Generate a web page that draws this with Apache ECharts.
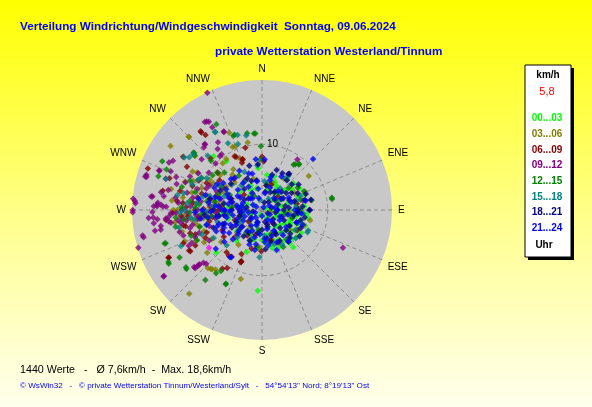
<!DOCTYPE html>
<html><head><meta charset="utf-8">
<script src="https://cdn.jsdelivr.net/npm/echarts/dist/echarts.min.js"></script>
<style>html,body{margin:0;padding:0;}#chart{width:592px;height:407px;}</style>
</head><body><div id="chart"></div>
<script>
const directions = ['N','NNE','NE','ENE','E','ESE','SE','SSE','S','SSW','SW','WSW','W','WNW','NW','NNW'];
const radiusTickLabels = ['10'];
const bucketLabels = ['00...03','03...06','06...09','09...12','12...15','15...18','18...21','21...24'];
const titleLine1 = 'Verteilung Windrichtung/Windgeschwindigkeit  Sonntag, 09.06.2024';
const titleLine2 = 'private Wetterstation Westerland/Tinnum';
const footerStats = '1440 Werte   -   Ø 7,6km/h  -  Max. 18,6km/h';
const footerCopy = '© WsWin32   -   © private Wetterstation Tinnum/Westerland/Sylt   -   54°54\'13" Nord; 8°19\'13" Ost';
const unitLabel = 'km/h';
const currentLabel = '5,8';
const hourLabel = 'Uhr';

// [speed km/h, direction deg]
const h00_03 = [[1.2,95],[2.5,110],[3.1,80],[4.0,100],[4.8,115],[5.5,95],[6.1,105],[3.6,130],[4.4,140],[5.2,150],[2.8,160],[3.9,170],[5.0,175],[6.0,165],[2.1,200],[3.3,210],[4.6,195],[1.8,250],[3.0,260],[4.2,245],[5.3,255],[2.4,290],[3.8,280],[5.1,275],[6.2,265],[2.9,320],[4.1,335],[5.4,20],[4.7,50],[3.5,60],[5.9,70],[6.5,85],[6.9,120],[6.3,135],[5.8,145],[2.2,45],[1.5,150],[0.8,200],[3.2,15],[4.3,30],[6.0,40],[6.6,60],[5.6,125],[4.9,160],[3.7,185],[6.8,95],[7.2,100],[12.3,183],[5.0,230],[6.1,220],[7.0,285],[6.4,300],[3.4,345],[2.6,75],[5.2,80],[6.2,155],[7.4,140],[4.4,90],[4.0,120],[3.0,100],[11.0,318],[5.7,112],[6.7,128],[9.2,324],[6.4,355],[5.4,8],[6.8,200],[9.5,227],
  [0.6,60],[1.1,130],[1.9,90],[2.3,120],[2.7,60],[3.3,140],[3.6,95],[4.1,75],[4.5,110],[4.9,130],[5.3,100],[5.7,88],[6.1,120],[6.4,110],[1.4,300],[2.0,260],[2.6,230],[3.4,190],[4.0,205],[4.6,180],[5.4,165],[5.8,185],[3.0,45],[3.9,35],[4.7,25],[5.5,55],[6.3,50],[6.9,70],[3.5,330],[4.4,310],[2.9,275],[3.7,245],[4.9,262],[5.9,278],[6.6,140],[7.0,110]];
const h03_06 = [[15.7,315],[17.0,305],[12.8,337],[10.5,348],[10.5,337],[13.1,309],[9.5,325],[8.5,337],[8.8,54],[7.1,67],[7.5,102],[11.0,197],[11.9,221],[12.1,223],[16.9,221],[11.8,220],[11.5,218],[12.6,255],[6.0,139],[5.2,126],[1.3,102],[12.5,290],[14.2,283],[13.4,262],[11.1,245],[9.4,250],[8.2,268],[7.4,280],[10.1,275],[6.3,295],[5.5,262],[4.6,240],[7.9,232],[8.8,240],[3.9,300],[2.8,330],[4.5,20],[5.8,35],[3.3,60],[6.8,110],[4.2,160],[5.6,185],[3.1,215],[9.2,300],[11.4,300],[10.8,262],[12.9,270],[13.8,276],[8.6,285],[6.1,250],[2.2,270],[7.0,320],[8.3,310],[9.9,255],[10.6,232],[15.8,315],[10.6,335],[9.3,320],[8.5,299],[12.1,299],
  [11.9,266],[10.3,258],[9.0,262],[8.0,273],[7.1,267],[12.2,279],[11.0,284],[9.8,290],[8.7,296],[6.5,303],[5.9,315],[7.6,325],[4.3,280],[3.6,255],[5.1,228],[6.4,214],[4.9,345],[3.8,10],[5.6,62],[4.1,95],[12.7,248],[10.1,241],[13.5,270],[11.4,293],[6.7,278]];
const h06_09 = [[15.2,322],[14.3,323],[14.5,304],[9.8,345],[8.2,339],[8.1,0],[6.3,181],[8.6,202],[10.3,211],[10.8,214],[16.0,243],[18.5,290],[14.9,289],[15.0,322],[9.0,334],[7.4,2],[12.6,240],[11.5,242],[13.0,247],[8.4,220],[8.6,216],[8.5,202],[9.1,248],[11.5,252],[14.7,264],[9.2,333],[7.8,337],[15.4,281],[15.9,243],[12.7,241],[8.5,213],[8.3,339],[8.4,202],[5.5,153],[4.8,163],[4.7,103],[10.2,270],[12.1,275],[11.3,265],[9.5,285],[7.6,262],[6.2,275],[5.1,290],[4.4,250],[3.6,310],[2.7,230],[6.9,300],[8.8,310],[10.6,295],[12.8,283],[13.6,268],[11.9,258],[4.1,20],[3.2,50],[5.4,80],[6.2,120],[2.5,140],[3.9,195],[7.1,235],[5.8,225],[13.2,300],[11.1,315],[9.9,262],
  [11.6,272],[10.6,276],[9.7,264],[8.9,271],[12.4,266],[10.0,281],[8.2,258],[7.3,287],[6.6,270],[5.8,262],[11.2,289],[9.4,296],[7.9,305],[6.4,318],[5.2,330],[4.5,210],[6.1,195],[7.4,205],[3.4,270],[4.8,285],[9.6,244],[10.8,250],[12.2,259],[13.0,276],[6.8,243]];
const h09_12 = [[19.7,335],[15.9,328],[15.7,329],[14.7,329],[13.3,334],[13.2,319],[11.5,324],[10.4,322],[9.4,35],[6.4,77],[13.6,115],[12.0,228],[12.8,229],[13.5,229],[18.0,236],[19.7,253],[18.6,258],[16.6,259],[15.6,261],[19.7,275],[19.7,270],[17.0,277],[18.5,286],[19.4,274],[16.8,277],[15.9,274],[16.5,272],[16.0,273],[15.4,273],[18.3,286],[16.7,291],[15.6,280],[17.3,266],[16.6,266],[18.5,257],[15.7,259],[14.3,263],[16.0,327],[13.2,334],[12.3,327],[10.5,324],[13.0,317],[13.3,319],[15.5,299],[15.9,297],[16.8,291],[18.4,287],[14.0,291],[15.4,288],[15.1,293],[19.7,269],[18.1,236],[13.5,230],[13.0,229],[12.6,229],[11.8,226],[16.6,263],[16.0,265],[14.7,265],[14.2,266],[13.1,268],[12.5,261],[12.2,264],[19.3,273],[16.7,269],[16.0,272],[15.1,272],[14.6,272],[13.9,268],[12.8,275],[11.6,262],[10.7,280],[9.8,270],[12.4,290],[11.2,300],[8.9,295],[13.0,255],[10.2,250],[14.6,282],[15.1,278],[8.0,275],[7.2,260],[11.8,245],[6.5,285],[12.0,310],[10.0,315],[9.3,240],[14.0,262],
  [12.2,270],[11.4,268],[10.9,273],[10.1,266],[9.4,278],[8.7,268],[8.1,282],[13.3,278],[12.9,263],[11.7,283],[10.8,258],[9.6,262],[12.6,252],[11.3,256],[10.4,288],[9.1,291],[13.6,287],[12.1,295],[7.7,270],[6.9,266],[11.0,248],[12.4,244],[8.4,253],[9.9,305],[7.4,292]];
const h12_15 = [[14.8,332],[12.1,339],[11.9,349],[11.7,355],[13.5,310],[16.6,288],[16.9,296],[8.4,35],[8.9,39],[10.8,80],[12.6,206],[13.7,219],[14.5,233],[14.5,240],[16.3,241],[15.7,251],[12.2,340],[11.7,354],[13.6,310],[13.2,309],[15.8,293],[10.8,314],[9.7,359],[7.7,358],[15.5,251],[16.4,240],[14.6,232],[11.9,216],[11.2,214],[12.5,206],[8.6,36],[9.0,39],[7.0,66],[7.7,79],[10.8,81],[11.0,268],[9.6,275],[8.4,262],[7.3,280],[12.3,272],[13.2,265],[10.5,285],[6.2,250],[5.4,295],[4.5,230],[3.6,100],[4.9,120],[5.8,140],[6.5,150],[3.0,190],[2.4,330],[4.1,10],[5.3,50],[6.1,75],[7.5,300],[8.9,310],[9.8,255],[10.9,245],[5.0,200],
  [12.0,263],[11.1,277],[10.2,272],[9.3,266],[8.5,279],[7.8,263],[7.0,290],[12.7,286],[11.8,292],[10.4,298],[9.2,305],[8.1,315],[6.3,326],[5.5,265],[4.6,275],[3.4,250],[4.2,215],[5.7,188],[3.9,160],[4.8,105],[5.9,90],[6.4,58],[3.2,35],[13.4,259],[11.5,250]];
const h15_18 = [[13.9,329],[12.0,342],[10.7,340],[11.7,315],[13.7,306],[6.8,354],[7.7,116],[6.0,36],[5.9,137],[13.8,329],[11.4,333],[11.6,348],[10.8,295],[10.5,298],[14.3,304],[13.5,246],[7.2,183],[6.6,38],[4.3,40],[7.7,114],[5.9,121],[1.6,349],[15.4,288],[13.5,309],[9.0,270],[10.4,262],[8.2,285],[7.0,255],[6.1,290],[5.0,265],[4.0,240],[3.1,280],[2.5,200],[3.8,150],[4.6,100],[5.2,85],[6.2,70],[3.3,60],[5.5,160],[6.7,130],[11.5,275],[12.2,282],[9.7,300],[8.5,240],[7.6,225],[4.9,320],[6.4,335],[2.0,30],[12.9,258],
  [11.8,270],[10.9,264],[10.0,276],[9.2,283],[8.4,268],[7.5,274],[6.7,262],[12.5,268],[11.3,290],[9.9,248],[8.8,255],[7.2,300],[6.0,310],[5.1,330],[4.4,5],[3.7,45],[5.4,75],[6.3,95],[5.8,110],[4.7,140],[6.1,150],[3.9,175],[4.6,200],[5.6,222],[13.1,280]];
const h18_21 = [[6.9,37],[6.7,77],[7.6,78],[7.2,90],[7.0,344],[7.0,355],[5.6,16],[6.4,29],[6.0,49],[5.5,89],[7.3,90],[5.5,95],[2.5,52],[1.2,17],[3.2,109],[1.9,166],[5.0,202],[6.8,36],[4.1,47],[3.7,61],[5.4,93],[2.3,90],[2.7,162],[4.4,70],[5.2,60],[6.1,105],[4.8,120],[3.9,135],[5.6,130],[6.3,140],[4.3,150],[3.0,180],[4.0,210],[2.0,235],[3.5,255],[4.6,270],[5.9,280],[6.6,262],[7.4,270],[8.1,282],[3.1,300],[4.2,320],[2.8,10],[3.4,35],[1.5,75],[4.9,100],[6.5,115],[7.0,125],[5.0,165],[6.0,175],[3.6,80],[2.2,130],[8.8,265],[7.9,250],[5.3,240],[6.2,310],[4.7,340],[6.0,65],
  [1.0,120],[1.6,40],[2.1,100],[2.6,70],[2.9,140],[3.3,90],[3.7,115],[4.1,85],[4.5,55],[4.8,130],[5.1,75],[5.6,110],[6.2,85],[6.6,100],[3.0,25],[3.8,10],[4.6,350],[5.3,335],[2.4,280],[3.2,262],[4.3,245],[5.0,290],[5.7,270],[6.4,250],[7.0,295],[3.5,190],[4.4,170],[5.4,150],[6.0,135],[2.0,200],[1.4,260],[2.7,310],[3.9,230],[4.9,215],[6.8,55],[7.1,70],[5.9,40],[6.5,20],[4.0,150],[2.3,160]];
const h21_24 = [[0.5,30],[1.1,250],[1.6,300],[2.0,200],[2.4,90],[2.7,270],[3.0,330],[3.3,240],[3.6,20],[3.9,280],[4.2,160],[4.5,260],[4.8,310],[5.1,225],[5.4,290],[5.7,270],[6.0,250],[6.3,300],[6.6,275],[7.0,262],[7.4,285],[7.8,268],[8.2,278],[8.7,255],[9.1,270],[2.2,140],[3.1,120],[4.0,100],[4.6,75],[3.4,60],[2.6,45],[5.2,15],[5.9,340],[4.4,350],[6.4,320],[5.6,200],[6.2,190],[4.9,175],[3.7,185],[2.9,215],[1.9,345],[1.4,120],[6.8,240],[7.5,230],[6.1,235],[5.3,245],[4.1,230],[8.0,295],[7.2,305],[6.7,315],[5.0,325],[3.8,300],[2.5,315],[3.2,280],[4.7,285],[5.8,262],[6.9,252],[7.7,245],[9.4,262],[10.2,268],[9.8,280],[3.5,205],[4.3,195],[5.5,170],[6.5,160],[5.0,140],[4.5,125],[5.6,110],[6.0,95],[11.0,45],[7.7,3],[6.8,78],[7.8,353],[8.6,213],[9.2,230],[8.7,214],
  [0.9,180],[1.3,60],[1.7,150],[2.1,260],[2.3,320],[2.8,250],[3.1,290],[3.4,265],[3.7,275],[4.0,250],[4.3,300],[4.6,240],[4.9,268],[5.2,280],[5.5,258],[5.8,295],[6.1,270],[6.4,245],[6.7,285],[7.1,275],[2.6,10],[3.3,350],[4.1,330],[2.9,110],[3.6,150],[4.4,175],[5.3,190],[2.0,80],[3.8,40],[4.5,65],[5.0,90],[1.5,220],[2.4,200],[3.9,215],[4.8,228],[6.3,225],[7.3,250],[8.3,262],[8.9,285],[7.9,300],[6.9,330],[5.7,345],[4.7,15],[5.9,30],[6.6,110],[6.2,140],[5.4,155],[3.0,165],[1.0,300],[2.2,230]];
const currentValue = [[9.9,234.5]];

const bucketData = [h00_03,h03_06,h06_09,h09_12,h12_15,h15_18,h18_21,h21_24];
const bucketColors = ['#00ff00','#808000','#800000','#800080','#008000','#008080','#000080','#0000ff'];

const FONT = 'Liberation Sans, Arial, sans-serif';
const chart = echarts.init(document.getElementById('chart'), null, {renderer:'canvas'});

const legendTexts = [
  {type:'text', style:{text:unitLabel, x:548, y:75, align:'center', verticalAlign:'middle', font:'bold 10px '+FONT, fill:'#000'}},
  {type:'text', style:{text:currentLabel, x:547, y:92, align:'center', verticalAlign:'middle', font:'11px '+FONT, fill:'#ff0000'}}
];
bucketLabels.forEach((t,i)=>{
  legendTexts.push({type:'text', style:{text:t, x:547, y:118.5+i*15.7, align:'center', verticalAlign:'middle', font:'bold 10px '+FONT, fill:bucketColors[i]}});
});
legendTexts.push({type:'text', style:{text:hourLabel, x:544, y:245, align:'center', verticalAlign:'middle', font:'bold 10px '+FONT, fill:'#000'}});

const series = bucketData.map((d,i)=>({
  type:'scatter', coordinateSystem:'polar', polarIndex:1, name:bucketLabels[i], data:d, z:3,
  symbol:'diamond', symbolSize:6.5, itemStyle:{color:bucketColors[i]}, silent:true
}));
series.push({type:'scatter', coordinateSystem:'polar', polarIndex:1, data:currentValue, z:3, symbol:'diamond', symbolSize:6.5, itemStyle:{color:'#ff00ff'}, silent:true});

chart.setOption({
  animation:false,
  backgroundColor:{type:'linear', x:0, y:0, x2:0, y2:1, colorStops:[{offset:0,color:'#ffff00'},{offset:0.55,color:'#ffff90'},{offset:1,color:'#ffffee'}]},
  title:[
    {text:titleLine1, left:15, top:16, textStyle:{color:'#0000ff', fontSize:11.7, fontWeight:'bold', fontFamily:FONT}},
    {text:titleLine2, left:210, top:41, textStyle:{color:'#0000ff', fontSize:11.7, fontWeight:'bold', fontFamily:FONT}},
    {text:footerStats, left:15, top:360, textStyle:{color:'#000', fontSize:10.7, fontWeight:'normal', fontFamily:FONT}},
    {text:footerCopy, left:15, top:377, textStyle:{color:'#0000ff', fontSize:8.1, fontWeight:'normal', fontFamily:FONT}}
  ],
  graphic:[
    {type:'rect', shape:{x:528, y:68, width:46, height:192}, style:{fill:'#000'}, silent:true},
    {type:'rect', shape:{x:525, y:65, width:46, height:192}, style:{fill:'#fff', stroke:'#000', lineWidth:1}, silent:true}
  ].concat(legendTexts),
  polar:[{center:[262,210], radius:130},{center:[262,210], radius:130}],
  angleAxis:[{
    polarIndex:0, z:0, type:'value', min:0, max:360, interval:22.5, startAngle:90, clockwise:true,
    axisLine:{show:false}, axisTick:{show:false}, axisLabel:{show:false}, splitLine:{show:false},
    splitArea:{show:true, areaStyle:{color:['#c8c8c8']}}
  },{
    polarIndex:1, z:1, type:'value', min:0, max:360, interval:22.5, startAngle:90, clockwise:true,
    axisLine:{show:false}, axisTick:{show:false},
    axisLabel:{formatter:v=> v>=360 ? '' : directions[Math.round(v/22.5)], color:'#000', fontSize:10, fontFamily:FONT, margin:6},
    splitLine:{show:true, lineStyle:{color:'#8c8c8c', type:[4,3], width:1}},
    splitArea:{show:false}
  }],
  radiusAxis:[{
    polarIndex:0, z:0, type:'value', min:0, max:19.8, interval:10,
    axisLine:{show:false}, axisTick:{show:false}, axisLabel:{show:false}, splitLine:{show:false}
  },{
    polarIndex:1, z:1, type:'value', min:0, max:19.8, interval:10,
    axisLine:{show:false}, axisTick:{show:false},
    axisLabel:{formatter:v=> radiusTickLabels.indexOf(String(v))>=0 ? String(v) : '', color:'#000', fontSize:10, fontFamily:FONT, align:'left', margin:-5},
    splitLine:{show:true, lineStyle:{color:['#8c8c8c','#8c8c8c','rgba(0,0,0,0)'], type:[4,3], width:1}}
  }],
  series:series
});
</script></body></html>
